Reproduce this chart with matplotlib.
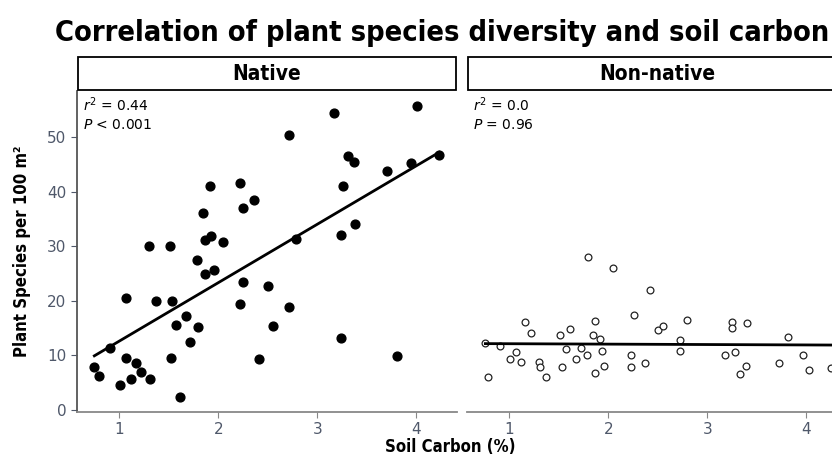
import numpy as np
import matplotlib.pyplot as plt
from matplotlib.patches import Rectangle

# Native: soil carbon (%) vs species per 100 m2
native_c = [0.75, 0.80, 0.91, 1.01, 1.07, 1.07, 1.12, 1.17, 1.22, 1.30, 1.31, 1.37,
            1.51, 1.52, 1.53, 1.57, 1.61, 1.67, 1.72, 1.79, 1.80, 1.85, 1.87, 1.87,
            1.92, 1.93, 1.96, 2.05, 2.22, 2.22, 2.25, 2.25, 2.36, 2.41, 2.50, 2.55,
            2.71, 2.71, 2.79, 3.17, 3.24, 3.24, 3.26, 3.31, 3.37, 3.38, 3.70, 3.80,
            3.95, 4.01, 4.23]
native_sp = [7.8, 6.2, 11.4, 4.6, 20.6, 9.6, 5.7, 8.5, 7.0, 30.1, 5.7, 19.9,
             30.1, 9.6, 19.9, 15.5, 2.3, 17.2, 12.5, 27.4, 15.2, 36.1, 25.0, 31.2,
             41.1, 31.9, 25.7, 30.8, 41.6, 19.4, 37.0, 23.4, 38.5, 9.3, 22.8, 15.4,
             50.5, 18.8, 31.3, 54.5, 32.0, 13.1, 41.1, 46.6, 45.4, 34.1, 43.8, 9.8,
             45.3, 55.8, 46.7]

# Non-native
nonnative_c = [0.76, 0.79, 0.91, 1.01, 1.07, 1.12, 1.16, 1.22, 1.30, 1.31, 1.37, 1.51,
               1.53, 1.57, 1.61, 1.67, 1.73, 1.79, 1.80, 1.85, 1.87, 1.87, 1.92, 1.94,
               1.96, 2.05, 2.23, 2.23, 2.26, 2.37, 2.42, 2.50, 2.55, 2.72, 2.72, 2.80,
               3.18, 3.25, 3.25, 3.28, 3.33, 3.39, 3.40, 3.72, 3.81, 3.97, 4.03, 4.25]
nonnative_sp = [12.2, 6.0, 11.7, 9.4, 10.6, 8.8, 16.1, 14.1, 8.8, 7.9, 6.1, 13.8,
                7.8, 11.1, 14.8, 9.4, 11.3, 10.1, 28.0, 13.8, 16.3, 6.7, 13.0, 10.8,
                8.1, 26.0, 10.1, 7.9, 17.4, 8.5, 22.0, 14.7, 15.3, 12.8, 10.8, 16.4,
                10.0, 16.2, 15.0, 10.6, 6.5, 8.1, 16.0, 8.5, 13.4, 10.0, 7.3, 7.6]

panels = ["Native", "Non-native"]
stats = [(r"$\it{r}^2$ = 0.44", r"$\it{P}$ < 0.001"),
         (r"$\it{r}^2$ = 0.0", r"$\it{P}$ = 0.96")]
xticks = [1, 2, 3, 4]
yticks = [0, 10, 20, 30, 40, 50]

W, H = 832, 459
fig = plt.figure(figsize=(W / 100, H / 100), dpi=100)
bold = dict(fontweight='bold', fontstretch='condensed')

title = fig.text(55 / W, 1 - 33 / H, "Correlation of plant species diversity and soil carbon",
                 ha='left', va='center', fontsize=22, **bold)
# shrink the title until it fits inside the canvas
r = fig.canvas.get_renderer()
tw = title.get_window_extent(r).width
if tw > 772:
    title.set_fontsize(22 * 772 / tw)

tick_col = '#4f586a'
ax_bottom, ax_top = 1 - 412 / H, 1 - 91 / H
pw = 380 / W
lefts = [77 / W, 467 / W]
data = [(native_c, native_sp), (nonnative_c, nonnative_sp)]

for i, (x, y) in enumerate(data):
    ax = fig.add_axes([lefts[i], ax_bottom, pw, ax_top - ax_bottom])
    if i == 0:
        ax.scatter(x, y, s=40, color='black', zorder=3)
    else:
        ax.scatter(x, y, s=24, facecolor='white', edgecolor='#222222',
                   linewidth=0.9, zorder=3)
    k, b = np.polyfit(x, y, 1)
    xx = np.array([min(x), max(x)])
    ax.plot(xx, k * xx + b, color='black', lw=2.0, zorder=4)

    ax.set_xlim(0.575, 4.41)
    ax.set_ylim(-0.4, 58.5)
    ax.set_xticks(xticks)
    ax.set_yticks(yticks)
    for s in ['top', 'right']:
        ax.spines[s].set_visible(False)
    ax.spines['bottom'].set_color('#888888')
    ax.spines['bottom'].set_linewidth(1.3)
    if i == 0:
        ax.spines['left'].set_color('#555555')
        ax.spines['left'].set_linewidth(1.3)
        ax.tick_params(axis='y', colors=tick_col, labelsize=11, length=4, labelcolor=tick_col)
    else:
        ax.spines['left'].set_visible(False)
        ax.tick_params(axis='y', left=False, labelleft=False)
    ax.tick_params(axis='x', colors='#888888', labelcolor=tick_col, labelsize=11, length=4)

    ax.text(0.015, 0.985, stats[i][0], transform=ax.transAxes, ha='left', va='top', fontsize=10)
    ax.text(0.015, 0.915, stats[i][1], transform=ax.transAxes, ha='left', va='top', fontsize=10)

    # facet strip
    sb = 1 - 90 / H
    fig.patches.append(Rectangle((lefts[i] + 1 / W, sb), pw - 2 / W, 33 / H,
                                 transform=fig.transFigure, facecolor='white',
                                 edgecolor='black', lw=1.3))
    fig.text(lefts[i] + pw / 2, sb + 16 / H, panels[i], ha='center', va='center',
             fontsize=15, **bold)

fig.text(450 / W, 1 - 447 / H, "Soil Carbon (%)", ha='center', va='center',
         fontsize=12, **bold)
fig.text(22 / W, (ax_bottom + ax_top) / 2, "Plant Species per 100 m²", rotation=90,
         ha='center', va='center', fontsize=12, **bold)

fig.savefig('out.png', dpi=100)
